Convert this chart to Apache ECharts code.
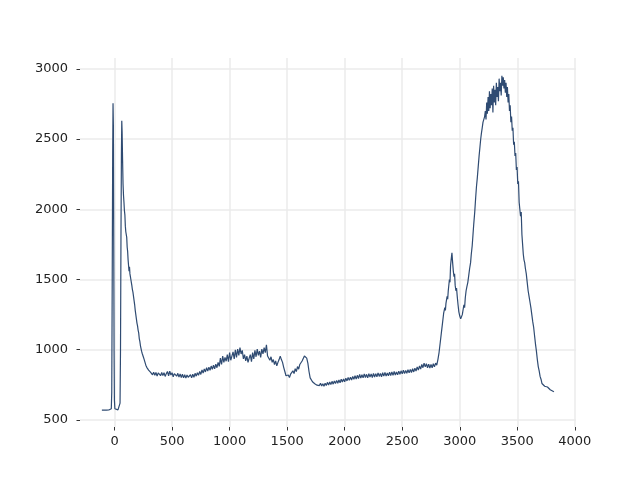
<!DOCTYPE html>
<html><head><meta charset="utf-8">
<script src="https://cdn.jsdelivr.net/npm/echarts@6/dist/echarts.min.js"></script>
<style>html,body{margin:0;padding:0;background:#fff}#c{width:640px;height:480px}</style>
</head><body><div id="c"></div>
<script>
const xTicks = [0,500,1000,1500,2000,2500,3000,3500,4000];
const yTicks = [500,1000,1500,2000,2500,3000];
const shift = [-110,-90,-70,-50,-35,-28,-24,-20,-16,-13,-10,-7,-4,-1,3,10,30,42,48,52,56,60,63,66,70,74,78,82,86,90,94,98,102,106,110,114,118,122,126,130,134,138,142,146,150,155,160,165,170,175,180,185,190,195,200,205,210,215,220,225,230,235,240,245,250,258,265,272,280,288,296,305,312,
320,330,340,350,360,370,380,390,400,410,420,430,440,450,460,470,480,490,500,510,520,530,540,550,560,570,580,590,600,610,620,630,640,650,660,670,680,690,700,710,720,730,740,750,760,770,780,790,800,810,820,830,840,850,860,870,880,890,900,910,920,930,940,950,960,970,980,990,1000,1010,1020,1030,1040,1050,1060,1070,1080,1090,1100,1110,1120,1130,1140,1150,1160,1170,1180,1190,1200,1210,1220,1230,1240,1250,1260,1270,1280,1290,1300,1310,1320,1330,1340,1350,1360,1370,1380,1390,1400,1410,1420,1430,1440,1450,1460,1470,1480,1490,1500,1510,1520,1530,1540,1550,1560,1570,1580,1590,1600,1610,1620,1630,1640,1650,1660,1670,1680,1690,1700,1710,1720,1730,1740,1750,1760,1770,1780,1790,1800,1810,1820,1830,1840,1850,1860,1870,1880,1890,1900,1910,1920,1930,1940,1950,1960,1970,1980,1990,2000,2010,2020,2030,2040,2050,2060,2070,2080,2090,2100,2110,2120,2130,2140,2150,2160,2170,2180,2190,2200,2210,2220,2230,2240,2250,2260,2270,2280,2290,2300,2310,2320,2330,2340,2350,2360,2370,2380,2390,2400,2410,2420,2430,2440,2450,2460,2470,2480,2490,2500,2510,2520,2530,2540,2550,2560,2570,2580,2590,2600,2610,2620,2630,2640,2650,2660,2670,2680,2690,2700,2710,2720,2730,2740,2750,2760,2770,2780,2790,2800,2810,2820,2830,2840,2850,2860,2870,2875,2880,2890,2895,2900,2910,2915,2920,2925,2932,2938,2944,2950,2955,2960,2966,2972,2978,2985,2992,3000,3008,3015,3022,3030,3036,3042,3048,3055,3062,3070,3078,3086,3094,3100,3108,3115,3122,3130,3138,3145,3152,3160,3168,3175,3182,3188,3195,3202,3210,3216,3222,3228,3234,3240,3246,3252,3258,3264,3270,3276,3282,3288,3294,3300,3306,3312,3318,3324,3330,3336,3342,3348,3354,3360,3366,3372,3378,3384,3390,3396,3402,3408,3414,3420,3426,3432,3438,3444,3450,3456,3462,3468,3474,3480,3486,3492,3498,3504,3510,3516,3522,3528,3534,3540,3546,3552,3558,3564,3570,3578,3586,3594,3602,3610,3618,3626,3634,3642,3650,3658,3666,3674,3682,3690,3698,3706,3714,3722,3730,3738,3746,3754,3762,3770,3778,3786,3794,3802,3810,3818];
const intensity = [570,570,570,571,573,580,700,1500,2400,2755,2600,1800,1000,640,580,572,572,575,620,1000,1800,2400,2630,2550,2350,2180,2100,2050,1990,1960,1880,1840,1845,1800,1730,1700,1640,1600,1560,1590,1540,1520,1500,1480,1460,1430,1410,1380,1350,1320,1280,1250,1220,1190,1170,1140,1120,1080,1060,1030,1010,990,975,965,950,930,910,890,875,865,855,850,840,
845,822,840,818,838,812,835,842,815,838,816,836,810,830,845,815,848,820,836,808,830,842,812,832,805,828,802,826,800,822,798,820,804,796,822,800,826,804,832,812,836,818,846,824,856,834,864,842,872,848,876,854,884,860,890,864,898,872,910,882,940,895,955,910,945,918,965,915,980,925,955,985,935,1000,945,1005,960,1015,970,995,935,965,920,955,910,940,965,915,980,935,995,950,1005,960,990,945,1005,970,1015,980,1035,955,950,925,950,910,930,895,920,885,910,930,955,930,910,875,845,815,805,820,802,826,825,850,830,865,845,880,862,895,895,920,920,955,955,940,905,845,800,790,772,780,758,768,748,760,745,762,742,758,740,762,745,768,748,770,752,775,755,778,760,782,762,785,765,790,770,792,772,798,778,802,782,805,785,810,790,815,792,818,795,825,798,822,800,828,802,825,800,830,805,828,802,832,806,830,808,835,810,832,808,836,812,838,812,835,815,840,816,842,818,845,820,842,822,848,825,850,828,855,830,852,832,858,835,860,838,865,842,868,848,878,855,885,862,895,872,905,878,900,872,898,870,895,872,900,878,905,890,930,980,1050,1120,1190,1260,1300,1280,1330,1380,1360,1420,1500,1480,1600,1640,1690,1620,1560,1520,1540,1460,1420,1440,1380,1320,1270,1240,1220,1225,1250,1290,1320,1300,1370,1420,1450,1480,1530,1580,1620,1680,1740,1820,1900,1980,2080,2160,2220,2300,2380,2440,2500,2540,2580,2620,2610,2660,2700,2640,2760,2680,2800,2700,2840,2720,2820,2740,2860,2690,2880,2760,2850,2740,2900,2800,2870,2770,2930,2840,2900,2810,2950,2880,2940,2860,2920,2830,2900,2800,2870,2760,2820,2700,2740,2620,2660,2560,2580,2460,2480,2380,2400,2280,2300,2180,2200,2050,2000,1950,1980,1820,1750,1680,1640,1620,1580,1540,1480,1420,1380,1340,1300,1250,1200,1160,1100,1040,990,930,880,850,810,790,760,750,755,740,742,730,735,725,722,715,718,708,705,700];

const data = shift.map((x, i) => [x, intensity[i]]);
const chart = echarts.init(document.getElementById('c'), null, {renderer: 'canvas'});
const font = {fontFamily: 'DejaVu Sans', fontSize: 13, color: '#222', formatter: v => String(v)};
chart.setOption({
  animation: false,
  backgroundColor: '#fff',
  grid: {left: 80, right: 64, top: 58, bottom: 53, containLabel: false},
  xAxis: {
    type: 'value', min: -300, max: 4010,
    axisLine: {show: false, onZero: false},
    axisTick: {show: true, length: 3.5, lineStyle: {color: '#333', width: 1}, customValues: xTicks},
    axisLabel: Object.assign({margin: 8, customValues: xTicks}, font),
    splitLine: {show: true, lineStyle: {color: '#ebebeb', width: 1.5}}
  },
  yAxis: {
    type: 'value', min: 450, max: 3077,
    axisLine: {show: false, onZero: false},
    axisTick: {show: true, length: 3.5, lineStyle: {color: '#333', width: 1}, customValues: yTicks},
    axisLabel: Object.assign({margin: 12, customValues: yTicks}, font),
    splitLine: {show: true, lineStyle: {color: '#ebebeb', width: 1.5}}
  },
  series: [{
    type: 'line', data: data, showSymbol: false, symbol: 'none',
    lineStyle: {color: '#2f4b72', width: 1.2}
  }]
});
</script></body></html>
